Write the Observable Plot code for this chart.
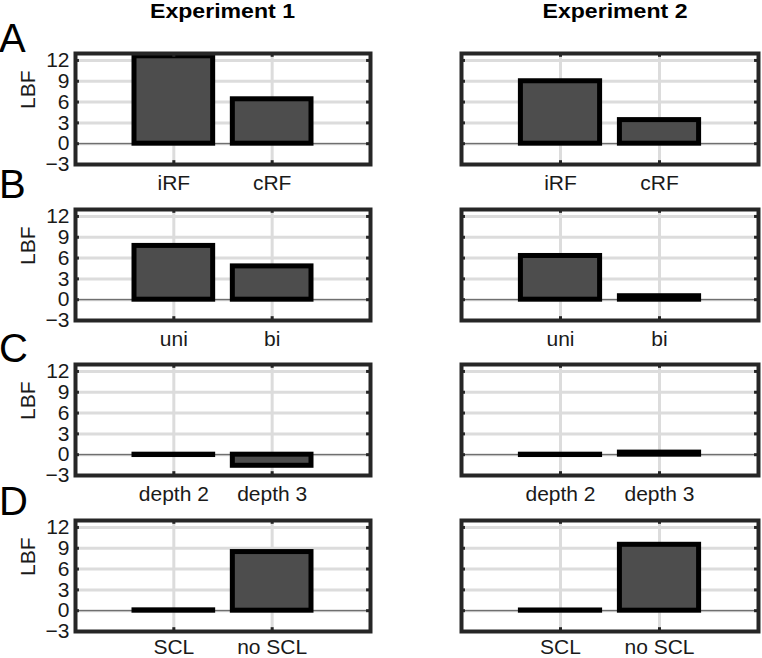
<!DOCTYPE html>
<html><head><meta charset="utf-8">
<script src="https://cdn.jsdelivr.net/npm/d3@7"></script>
<script src="https://cdn.jsdelivr.net/npm/@observablehq/plot@0.6"></script>
<style>
body{margin:0;background:#fff;overflow:hidden;}
#root{position:relative;width:762px;height:658px;overflow:hidden;font-family:"Liberation Sans",Arial,Helvetica,sans-serif;}
.panel{position:absolute;}
svg.overlay{position:absolute;left:0;top:0;pointer-events:none;}
</style></head><body><div id="root"></div>
<script>
const experiments = ["Experiment 1", "Experiment 2"];
const rowLetters = ["A", "B", "C", "D"];
const rowCategories = [["iRF", "cRF"], ["uni", "bi"], ["depth 2", "depth 3"], ["SCL", "no SCL"]];
const exp1Values = [[12.6, 6.4], [7.75, 4.8], [-0.05, -1.6], [0.05, 8.45]];
const exp2Values = [[9.0, 3.4], [6.3, 0.5], [-0.05, 0.3], [0.03, 9.5]];
const yTicks = [-3, 0, 3, 6, 9, 12];
const yDomain = [-3, 13];
const yLabel = "LBF";

const FONT = '"Liberation Sans", Arial, Helvetica, sans-serif';
const root = document.getElementById("root");

function panel(cats, vals, showY, lastRow) {
  const data = cats.map((c, i) => ({cat: c, pos: i + 1, value: vals[i]}));
  const positions = data.map(d => d.pos);
  return Plot.plot({
    width: showY ? 380 : 382,
    height: lastRow ? 150 : 163,
    marginLeft: showY ? 75 : 81,
    marginRight: showY ? 10 : 4,
    marginTop: 12,
    marginBottom: lastRow ? 27 : 40,
    style: {fontFamily: FONT, fontSize: "21px", color: "#1a1a1a", background: "transparent", overflow: "visible"},
    x: {domain: [0, cats.length + 1], label: null, axis: null},
    y: {domain: yDomain, label: null, axis: null},
    marks: [
      Plot.gridY(yTicks, {stroke: "#dcdcdc", strokeOpacity: 1, strokeWidth: 3}),
      Plot.gridX(positions, {stroke: "#dcdcdc", strokeOpacity: 1, strokeWidth: 3}),
      Plot.ruleY([0], {stroke: "#555", strokeWidth: 1}),
      Plot.rect(data, {x1: d => d.pos - 0.4, x2: d => d.pos + 0.4, y1: 0, y2: "value",
        fill: "#4d4d4d", stroke: "#000", strokeWidth: 5}),
      Plot.ruleY(yTicks, {x1: 0, x2: 0.04, stroke: "#262626", strokeWidth: 3}),
      Plot.ruleY(yTicks, {x1: cats.length + 0.96, x2: cats.length + 1, stroke: "#262626", strokeWidth: 3}),
      Plot.ruleX(positions, {y1: yDomain[0], y2: yDomain[0] + 0.55, stroke: "#262626", strokeWidth: 3}),
      Plot.ruleX(positions, {y1: yDomain[1] - 0.55, y2: yDomain[1], stroke: "#262626", strokeWidth: 3}),
      Plot.frame({stroke: "#262626", strokeWidth: 4}),
      Plot.axisX(positions, {tickSize: 0, tickPadding: lastRow ? 8 : 10.5, tickFormat: d => cats[d - 1], fontSize: 21, label: null}),
      showY ? Plot.axisY(yTicks, {tickSize: 0, tickPadding: 6, fontSize: 21, label: null}) : null,
      showY ? Plot.text([yLabel], {frameAnchor: "left", dx: -47, rotate: -90, fontSize: 21, fill: "#1a1a1a"}) : null
    ]
  });
}

const frameTop0 = 53, rowStep = 155.5;
rowCategories.forEach((cats, r) => {
  [exp1Values, exp2Values].forEach((vals, c) => {
    const div = document.createElement("div");
    div.className = "panel";
    div.style.left = (c * 380) + "px";
    div.style.top = (frameTop0 + r * rowStep - 12) + "px";
    div.appendChild(panel(cats, vals[r], c === 0, r === rowCategories.length - 1));
    root.appendChild(div);
  });
});

// overlay: column titles and row letters
const ns = "http://www.w3.org/2000/svg";
const ov = document.createElementNS(ns, "svg");
ov.setAttribute("class", "overlay");
ov.setAttribute("width", 762);
ov.setAttribute("height", 658);
root.appendChild(ov);
const titleX = [222.5, 615];
experiments.forEach((t, i) => {
  const el = document.createElementNS(ns, "text");
  el.setAttribute("x", titleX[i]);
  el.setAttribute("y", 17.5);
  el.setAttribute("text-anchor", "middle");
  el.setAttribute("font-family", FONT);
  el.setAttribute("font-weight", "bold");
  el.setAttribute("font-size", 20);
  el.setAttribute("textLength", 145);
  el.setAttribute("lengthAdjust", "spacingAndGlyphs");
  el.textContent = t;
  ov.appendChild(el);
});
const letterBaselines = [52, 198, 362, 515];
rowLetters.forEach((L, i) => {
  const el = document.createElementNS(ns, "text");
  el.setAttribute("x", -1);
  el.setAttribute("y", letterBaselines[i]);
  el.setAttribute("font-family", FONT);
  el.setAttribute("font-size", 40);
  el.textContent = L;
  ov.appendChild(el);
});
</script></body></html>
